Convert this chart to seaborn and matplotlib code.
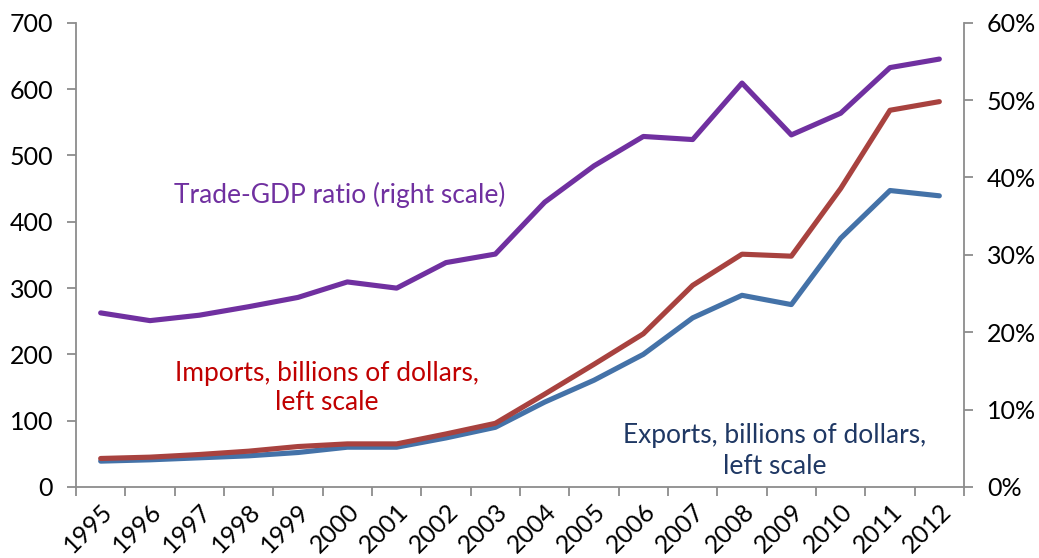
import matplotlib
matplotlib.use("Agg")
import matplotlib.pyplot as plt
import seaborn as sns
import numpy as np
import pandas as pd
from matplotlib.ticker import FixedLocator, FuncFormatter

years = ["1995", "1996", "1997", "1998", "1999", "2000", "2001", "2002", "2003",
         "2004", "2005", "2006", "2007", "2008", "2009", "2010", "2011", "2012"]
imports = [43, 45, 49, 54, 61, 65, 65, 80, 96, 140, 185, 231, 304, 351, 348, 450, 568, 581]
exports = [39, 41, 44, 47, 52, 60, 60, 74, 90, 128, 161, 200, 255, 289, 275, 375, 447, 439]
trade_gdp = [22.5, 21.5, 22.2, 23.3, 24.5, 26.5, 25.7, 29.0, 30.1, 36.8, 41.5, 45.3,
             44.9, 52.2, 45.5, 48.3, 54.2, 55.3]
left_ticks = [0, 100, 200, 300, 400, 500, 600, 700]
right_ticks = [0, 10, 20, 30, 40, 50, 60]

sns.set_style("white")
plt.rcParams["font.family"] = ["Lato", "DejaVu Sans"]
plt.rcParams["text.color"] = "black"
plt.rcParams["xtick.color"] = "black"
plt.rcParams["ytick.color"] = "black"

df = pd.DataFrame({"pos": np.arange(len(years)), "year": years,
                   "imports": imports, "exports": exports, "ratio": trade_gdp})

fig = plt.figure(figsize=(10.39, 5.58), dpi=100)
ax = fig.add_axes([76/1039, 1-487/558, (964-76)/1039, (487-22.7)/558])
ax2 = ax.twinx()

gray = "#8c8c8c"
sns.lineplot(data=df, x="pos", y="exports", ax=ax, color="#4472A8", linewidth=3.7)
sns.lineplot(data=df, x="pos", y="imports", ax=ax, color="#A8423F", linewidth=3.7)
sns.lineplot(data=df, x="pos", y="ratio", ax=ax2, color="#7030A0", linewidth=3.7)

for a in (ax, ax2):
    a.set_xlim(-0.5, len(years) - 0.5)
    a.set_xlabel("")
    a.set_ylabel("")
    for s in a.spines.values():
        s.set_visible(False)

ax.set_ylim(0, 700)
ax.yaxis.set_major_locator(FixedLocator(left_ticks))
ax2.set_ylim(0, 60)
ax2.yaxis.set_major_locator(FixedLocator(right_ticks))
ax2.yaxis.set_major_formatter(FuncFormatter(lambda v, p: f"{int(v)}%"))

ax.spines["left"].set_visible(True)
ax.spines["bottom"].set_visible(True)
ax2.spines["right"].set_visible(True)
for s in (ax.spines["left"], ax.spines["bottom"], ax2.spines["right"]):
    s.set_color(gray)
    s.set_linewidth(1.3)

ax.xaxis.set_major_locator(FixedLocator(np.arange(-0.5, len(years), 1.0)))
ax.xaxis.set_major_formatter(FuncFormatter(lambda v, p: ""))
ax.xaxis.set_minor_locator(FixedLocator(np.arange(len(years))))
ax.set_xticklabels(years, minor=True)
ax.tick_params(axis="x", which="major", direction="out", length=6.5, width=1.3, color=gray, bottom=True)
ax.tick_params(axis="x", which="minor", length=0, labelsize=18, pad=9)
for lbl in ax.get_xticklabels(minor=True):
    lbl.set_rotation(45)
    lbl.set_ha("right")
    lbl.set_va("top")
    lbl.set_rotation_mode("anchor")
ax.tick_params(axis="y", direction="out", length=6.5, width=1.3, color=gray, left=True, labelsize=18, pad=10)
ax2.tick_params(axis="y", direction="out", length=6.5, width=1.3, color=gray, right=True, labelsize=18, pad=10)

fig.text(340/1039, 1-195/558, "Trade-GDP ratio (right scale)", ha="center", va="center",
         fontsize=19, color="#7030A0")
fig.text(327/1039, 1-388/558, "Imports, billions of dollars,\nleft scale", ha="center", va="center",
         fontsize=19, color="#C00000", linespacing=1.25)
fig.text(775/1039, 1-451/558, "Exports, billions of dollars,\nleft scale", ha="center", va="center",
         fontsize=19, color="#1F3864", linespacing=1.25)

fig.savefig("out.png", dpi=100)
